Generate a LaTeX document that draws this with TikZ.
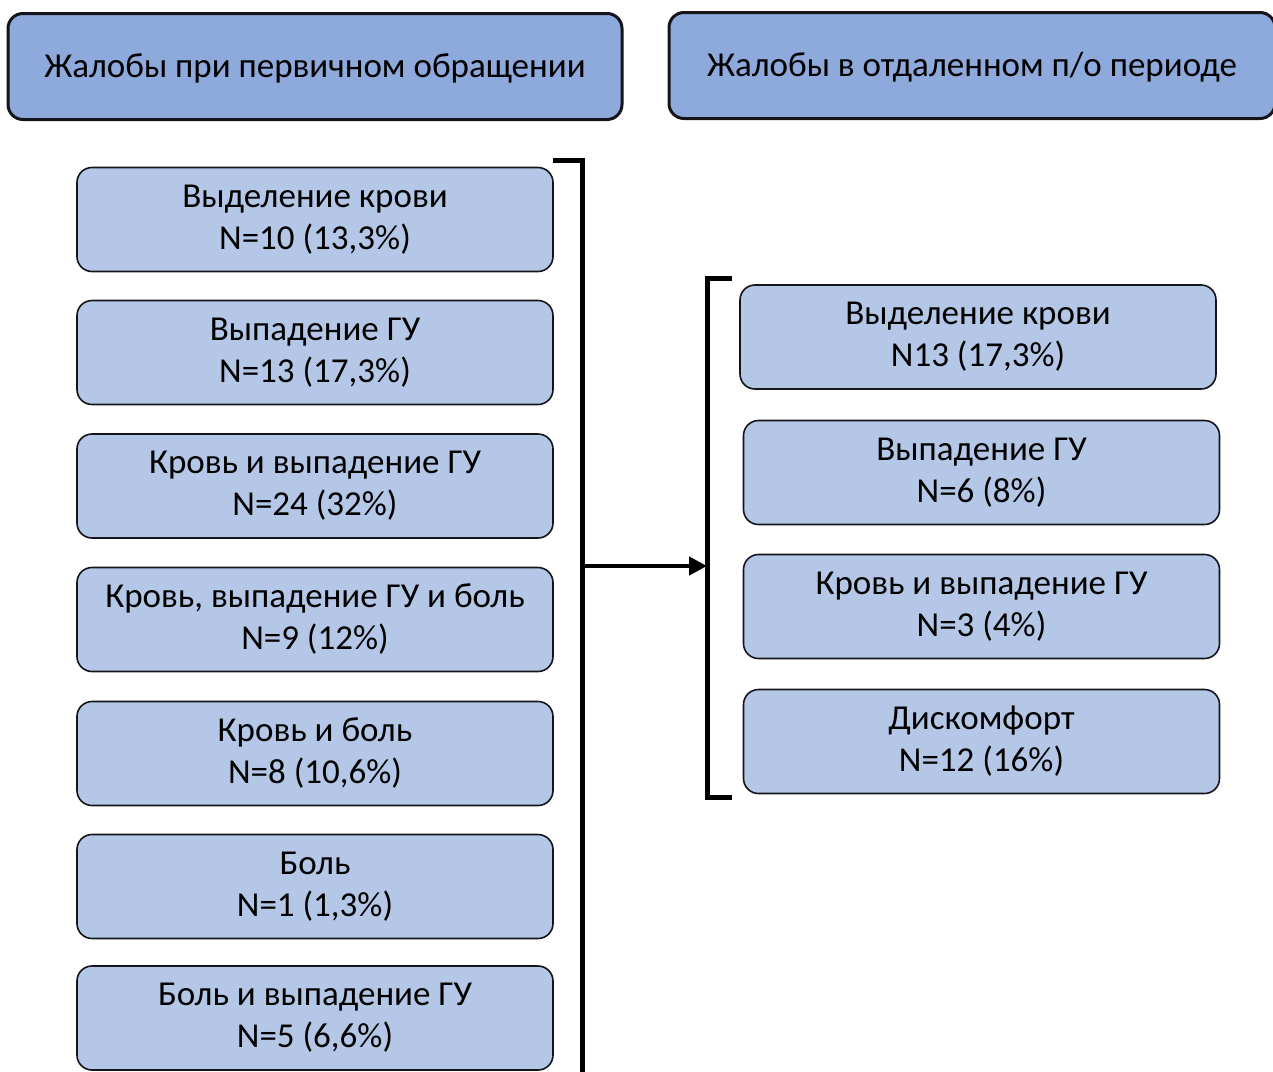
\documentclass[tikz,border=0pt]{standalone}
\usepackage{fontspec}
\setmainfont{Carlito}
\usepackage{xcolor}
\usetikzlibrary{arrows.meta,positioning}
\definecolor{hdrblue}{RGB}{142,169,219}
\definecolor{boxblue}{RGB}{180,199,231}
\definecolor{edgedark}{RGB}{20,20,25}

\begin{document}
\begin{tikzpicture}[x=1pt, y=-1pt,
  header/.style={draw=edgedark, fill=hdrblue, rounded corners=15pt, line width=3pt,
                 minimum height=106pt, inner sep=0pt, text height=30pt, text depth=8pt,
                 font=\fontsize{35}{40}\selectfont, align=center},
  item/.style={draw=edgedark, fill=boxblue, rounded corners=15pt, line width=1.6pt,
               minimum width=476pt, minimum height=104pt, inner sep=0pt,
               font=\fontsize{35}{42}\selectfont, align=center},
  brack/.style={line width=5pt, line cap=butt, line join=miter},
  arr/.style={-{Triangle[length=18pt, width=18pt]}, line width=4.5pt}
]
  \useasboundingbox (0,0) rectangle (1273,1071);

  \node[header, minimum width=614pt] (firstvisit) at (315, 66.5) {Жалобы при первичном обращении};
  \node[header, minimum width=606pt] (followup)   at (972, 65.5) {Жалобы в отдаленном п/о периоде};

  % left column
  \node[item] (blood)    at (315, 219.5)  {Выделение крови\\N=10 (13,3\%)};
  \node[item] (prolapse) at (315, 352.5)  {Выпадение ГУ\\N=13 (17,3\%)};
  \node[item] (bldpro)   at (315, 486)    {Кровь и выпадение ГУ\\N=24 (32\%)};
  \node[item] (bldpropn) at (315, 619.5)  {Кровь, выпадение ГУ и боль\\N=9 (12\%)};
  \node[item] (bldpain)  at (315, 753.5)  {Кровь и боль\\N=8 (10,6\%)};
  \node[item] (pain)     at (315, 886.5)  {Боль\\N=1 (1,3\%)};
  \node[item] (painpro)  at (315, 1018)   {Боль и выпадение ГУ\\N=5 (6,6\%)};

  % right column
  \node[item] (rblood)    at (978, 337)     {Выделение крови\\N13 (17,3\%)};
  \node[item] (rprolapse) at (981.5, 472.5) {Выпадение ГУ\\N=6 (8\%)};
  \node[item] (rbldpro)   at (981.5, 606.5) {Кровь и выпадение ГУ\\N=3 (4\%)};
  \node[item] (rdiscomf)  at (981.5, 741.5) {Дискомфорт\\N=12 (16\%)};

  % brackets
  \coordinate (lbtop) at (582, 160);
  \coordinate (lbbot) at (582, 1075);
  \coordinate (rbtop) at (707, 278);
  \coordinate (rbbot) at (707, 797);
  \coordinate (lbmid) at (582, 566);
  \coordinate (rbmid) at (707, 566);

  \draw[brack] (553, 160) -- (lbtop) -- (lbbot);
  \draw[brack] (732, 278) -- (rbtop) -- (rbbot) -- (732, 797);

  \draw[arr] (lbmid) -- (rbmid);
\end{tikzpicture}
\end{document}
